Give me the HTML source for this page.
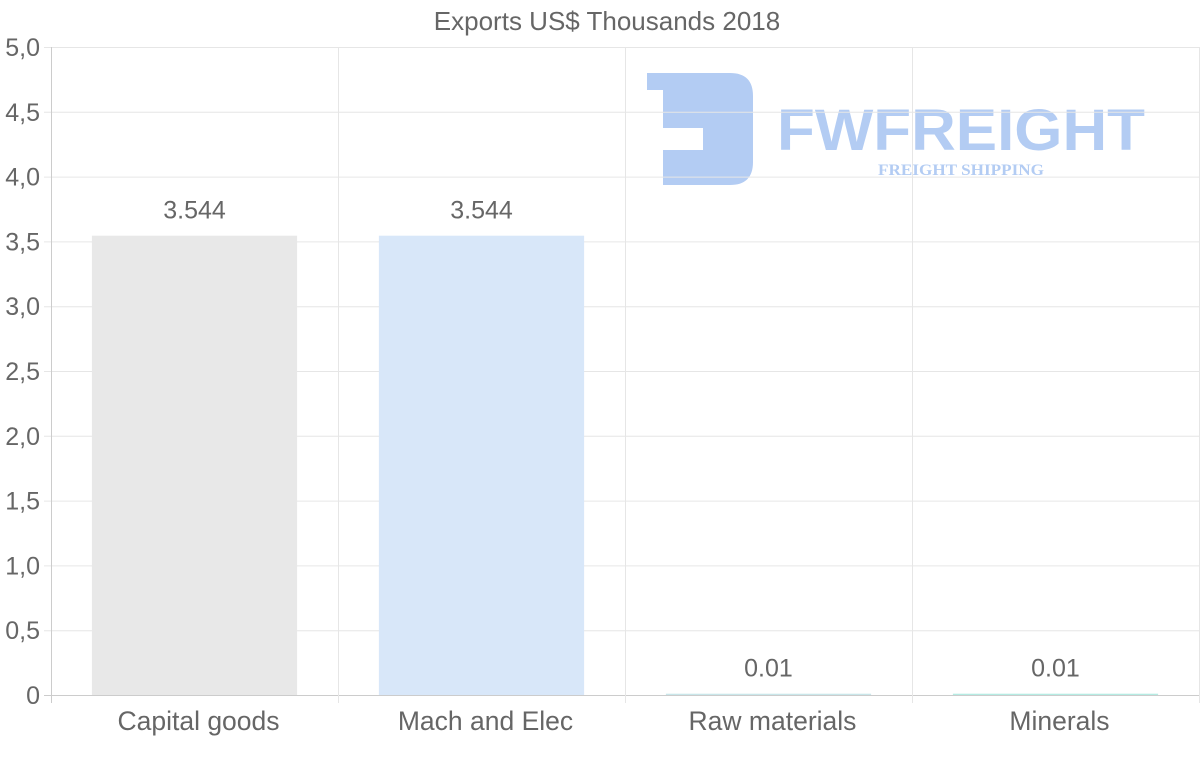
<!DOCTYPE html>
<html><head><meta charset="utf-8"><style>
body{margin:0;background:#fff;font-family:"Liberation Sans",Arial,sans-serif}
svg{display:block}
</style></head><body>
<svg id="chart" width="1200" height="763">
<text x="607" y="30" text-anchor="middle" font-size="26" fill="#666">Exports US$ Thousands 2018</text>
<g>
<path d="M647,73 H730 Q753,73 753,96 V162 Q753,185 730,185 H663 V150 H703 V128 H663 V90 H647 Z" fill="#b3ccf3"/>
<text x="777" y="150" font-size="58" font-weight="bold" fill="#b3ccf3" textLength="368" lengthAdjust="spacingAndGlyphs">FWFREIGHT</text>
<text x="878" y="175" font-size="16" font-weight="bold" font-family="Liberation Serif,serif" fill="#b3ccf3" textLength="166" lengthAdjust="spacingAndGlyphs">FREIGHT SHIPPING</text>
</g>
<g id="grid"></g><g id="bars"></g><g id="labels"></g>
</svg>
<script>
const categories=["Capital goods","Mach and Elec","Raw materials","Minerals"];
const values=[3.544,3.544,0.01,0.01];
const valueLabels=["3.544","3.544","0.01","0.01"];
const yTicks=[0,0.5,1,1.5,2,2.5,3,3.5,4,4.5,5];
const yTickLabels=["0","0,5","1,0","1,5","2,0","2,5","3,0","3,5","4,0","4,5","5,0"];
const colors=["#e8e8e8","#d8e7f9","#c9e6ea","#b5ebe3"];
const L=51,R=1199,T=47,B=695,yMax=5;
const y=v=>B-(v/yMax)*(B-T);
const bw=(R-L)/categories.length;
const x=i=>L+bw*i;
const NS="http://www.w3.org/2000/svg";
function mk(tag,attrs,parent){const e=document.createElementNS(NS,tag);for(const k in attrs)e.setAttribute(k,attrs[k]);document.getElementById(parent).appendChild(e);return e;}
yTicks.forEach((t,i)=>{
 const g=mk('line',{x1:44,x2:R,y1:y(t)+0.5,y2:y(t)+0.5,stroke:i==0?'#ccc':'#e6e6e6','stroke-width':1},'grid');
 
 
 const tx=mk('text',{x:40,y:y(t)+9,'text-anchor':'end','font-size':25,fill:'#666'},'labels');
 tx.textContent=yTickLabels[i];
 
 
});
for(let i=0;i<=categories.length;i++){
 const g=mk('line',{x1:x(i)+0.5,x2:x(i)+0.5,y1:T,y2:B+8,stroke:i==0?'#ccc':'#e6e6e6','stroke-width':1},'grid');
 
 
}
categories.forEach((c,i)=>{
 const w=bw*0.715,cx=x(i)+bw/2;
 const top=y(values[i]);
 const r=mk('rect',{x:cx-w/2,y:top,width:w,height:Math.max(B-top,1),fill:colors[i]},'bars');
 
 
 const v=mk('text',{x:cx,y:top-17,'text-anchor':'middle','font-size':25,fill:'#666'},'labels');
 v.textContent=valueLabels[i];
 
 
 const l=mk('text',{x:cx+4,y:730,'text-anchor':'middle','font-size':26.5,fill:'#666'},'labels');
 l.textContent=c;
 
 
});
</script>
</body></html>
